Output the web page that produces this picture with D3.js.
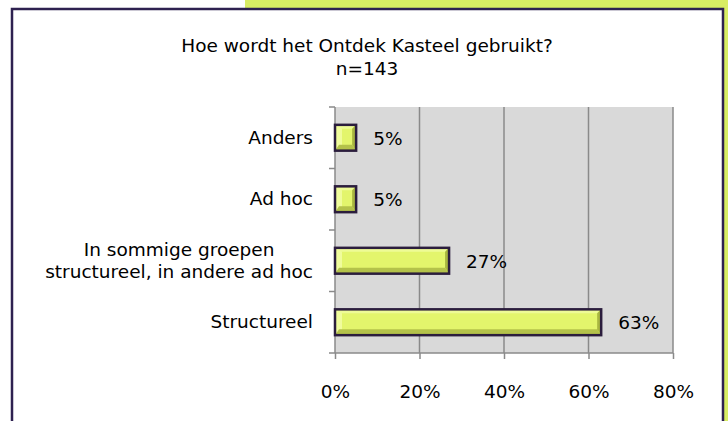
<!DOCTYPE html>
<html>
<head>
<meta charset="utf-8">
<script src="https://cdn.jsdelivr.net/npm/d3@7"></script>
<style>
  body { margin: 0; background: #fff; }
  svg { display: block; font-family: "DejaVu Sans", Verdana, sans-serif; }
</style>
</head>
<body>
<svg id="chart"></svg>
<script>
const categories = ['Anders', 'Ad hoc', 'In sommige groepen\nstructureel, in andere ad hoc', 'Structureel'];
const values = [5, 5, 27, 63];
const xticks = [0, 20, 40, 60, 80];
const title = ['Hoe wordt het Ontdek Kasteel gebruikt?', 'n=143'];

const width = 728, height = 421;
const margin = {top: 107, right: 55, bottom: 68, left: 335};
const fsize = '18.5px';

const svg = d3.select('#chart')
    .attr('width', width)
    .attr('height', height);

// slide background bits
svg.append('rect').attr('x', 245).attr('y', 0).attr('width', width - 245).attr('height', 8).attr('fill', '#d8ec64');
svg.append('rect').attr('x', 724).attr('y', 0).attr('width', 4).attr('height', height).attr('fill', '#d8ec64');
svg.append('path')
    .attr('d', `M12,${height} V9 H723 V${height}`)
    .attr('fill', '#fff')
    .attr('stroke', '#2e2150')
    .attr('stroke-width', 2.5);

svg.selectAll('.title')
    .data(title)
    .join('text')
    .attr('x', 367)
    .attr('y', (d, i) => 52 + i * 23)
    .attr('text-anchor', 'middle')
    .style('font-size', fsize)
    .attr('fill', '#000')
    .text(d => d);

const inner_width = width - margin.left - margin.right;
const inner_height = height - margin.top - margin.bottom;

const chart = svg.append('g')
    .attr('transform', `translate(${margin.left}, ${margin.top})`);

const xscale = d3.scaleLinear().domain([0, 80]).range([0, inner_width]);
const yscale = d3.scaleBand().domain(categories).range([0, inner_height]).paddingInner(0.58).paddingOuter(0.29);
const yband = d3.scaleBand().domain(categories).range([0, inner_height]);

chart.append('rect')
    .attr('width', xscale(80))
    .attr('height', inner_height)
    .attr('fill', '#d9d9d9');

chart.selectAll('.grid')
    .data(xticks.slice(1))
    .join('line')
    .attr('x1', d => xscale(d)).attr('x2', d => xscale(d))
    .attr('y1', 0).attr('y2', inner_height)
    .attr('stroke', '#8a8a8a')
    .attr('stroke-width', 1.5);

// x axis
const xaxis = d3.axisBottom(xscale)
    .tickValues(xticks)
    .tickSize(6)
    .tickPadding(26)
    .tickFormat(d => d + '%');
const xg = chart.append('g')
    .attr('transform', `translate(0, ${inner_height})`)
    .call(xaxis);
xg.select('.domain').remove();
xg.append('line').attr('x1', -6).attr('x2', xscale(80)).attr('stroke', '#8a8a8a').attr('stroke-width', 1.5);
xg.selectAll('.tick line').attr('stroke', '#8a8a8a').attr('stroke-width', 1.5);
xg.selectAll('.tick text').style('font-size', fsize).attr('fill', '#000').attr('font-family', 'DejaVu Sans, sans-serif');

// y axis: ticks between categories
const yg = chart.append('g');
yg.append('line').attr('x1', 0).attr('x2', 0).attr('y1', 0).attr('y2', inner_height).attr('stroke', '#8a8a8a').attr('stroke-width', 1.5);
yg.selectAll('.ytick')
    .data(categories)
    .join('line')
    .attr('x1', -6).attr('x2', 0)
    .attr('y1', d => yband(d)).attr('y2', d => yband(d))
    .attr('stroke', '#8a8a8a')
    .attr('stroke-width', 1.5);

// category labels
const labels = chart.selectAll('.cat')
    .data(categories)
    .join('text')
    .attr('class', 'cat')
    .style('font-size', fsize)
    .attr('fill', '#000');
labels.each(function(d) {
    const lines = d.split('\n');
    const t = d3.select(this);
    const cy = yband(d) + yband.bandwidth() / 2;
    lines.forEach((l, i) => {
        t.append('tspan').text(l)
            .attr('y', cy + 6 + (i - (lines.length - 1) / 2) * 22);
    });
    const widths = [];
    t.selectAll('tspan').each(function() { widths.push(this.getComputedTextLength()); });
    const w = d3.max(widths);
    const right = -22;
    t.attr('text-anchor', 'middle');
    t.selectAll('tspan').attr('x', right - w / 2);
});

// bars with bevel
const bev = 4;
const bars = chart.selectAll('.bar')
    .data(values.map((v, i) => ({cat: categories[i], v})))
    .join('g')
    .attr('class', 'bar');

bars.each(function(d) {
    const g = d3.select(this);
    const x0 = 0, x1 = xscale(d.v);
    const y0 = yscale(d.cat), y1 = y0 + yscale.bandwidth();
    g.append('rect').attr('x', x0).attr('y', y0).attr('width', x1 - x0).attr('height', y1 - y0).attr('fill', '#e3f56c');
    // top bevel
    g.append('polygon').attr('points', `${x0},${y0} ${x1},${y0} ${x1 - bev},${y0 + bev} ${x0 + bev},${y0 + bev}`).attr('fill', '#eefb96');
    // left bevel
    g.append('polygon').attr('points', `${x0},${y0} ${x0 + bev + 3},${y0 + bev} ${x0 + bev + 3},${y1 - bev} ${x0},${y1}`).attr('fill', '#f0fc9c');
    // bottom bevel
    g.append('polygon').attr('points', `${x0},${y1} ${x1},${y1} ${x1 - bev},${y1 - bev - 2} ${x0 + bev},${y1 - bev - 2}`).attr('fill', '#b4c24a');
    // right bevel
    g.append('polygon').attr('points', `${x1},${y0} ${x1},${y1} ${x1 - bev},${y1 - bev - 2} ${x1 - bev},${y0 + bev}`).attr('fill', '#a8b640');
    g.append('rect').attr('x', x0).attr('y', y0).attr('width', x1 - x0).attr('height', y1 - y0)
        .attr('fill', 'none').attr('stroke', '#2b1d3d').attr('stroke-width', 2.5);
});

chart.selectAll('.val')
    .data(values.map((v, i) => ({cat: categories[i], v})))
    .join('text')
    .attr('x', d => xscale(d.v) + 17)
    .attr('y', d => yscale(d.cat) + yscale.bandwidth() / 2 + 7)
    .style('font-size', fsize)
    .attr('fill', '#000')
    .text(d => d.v + '%');
</script>
</body>
</html>
